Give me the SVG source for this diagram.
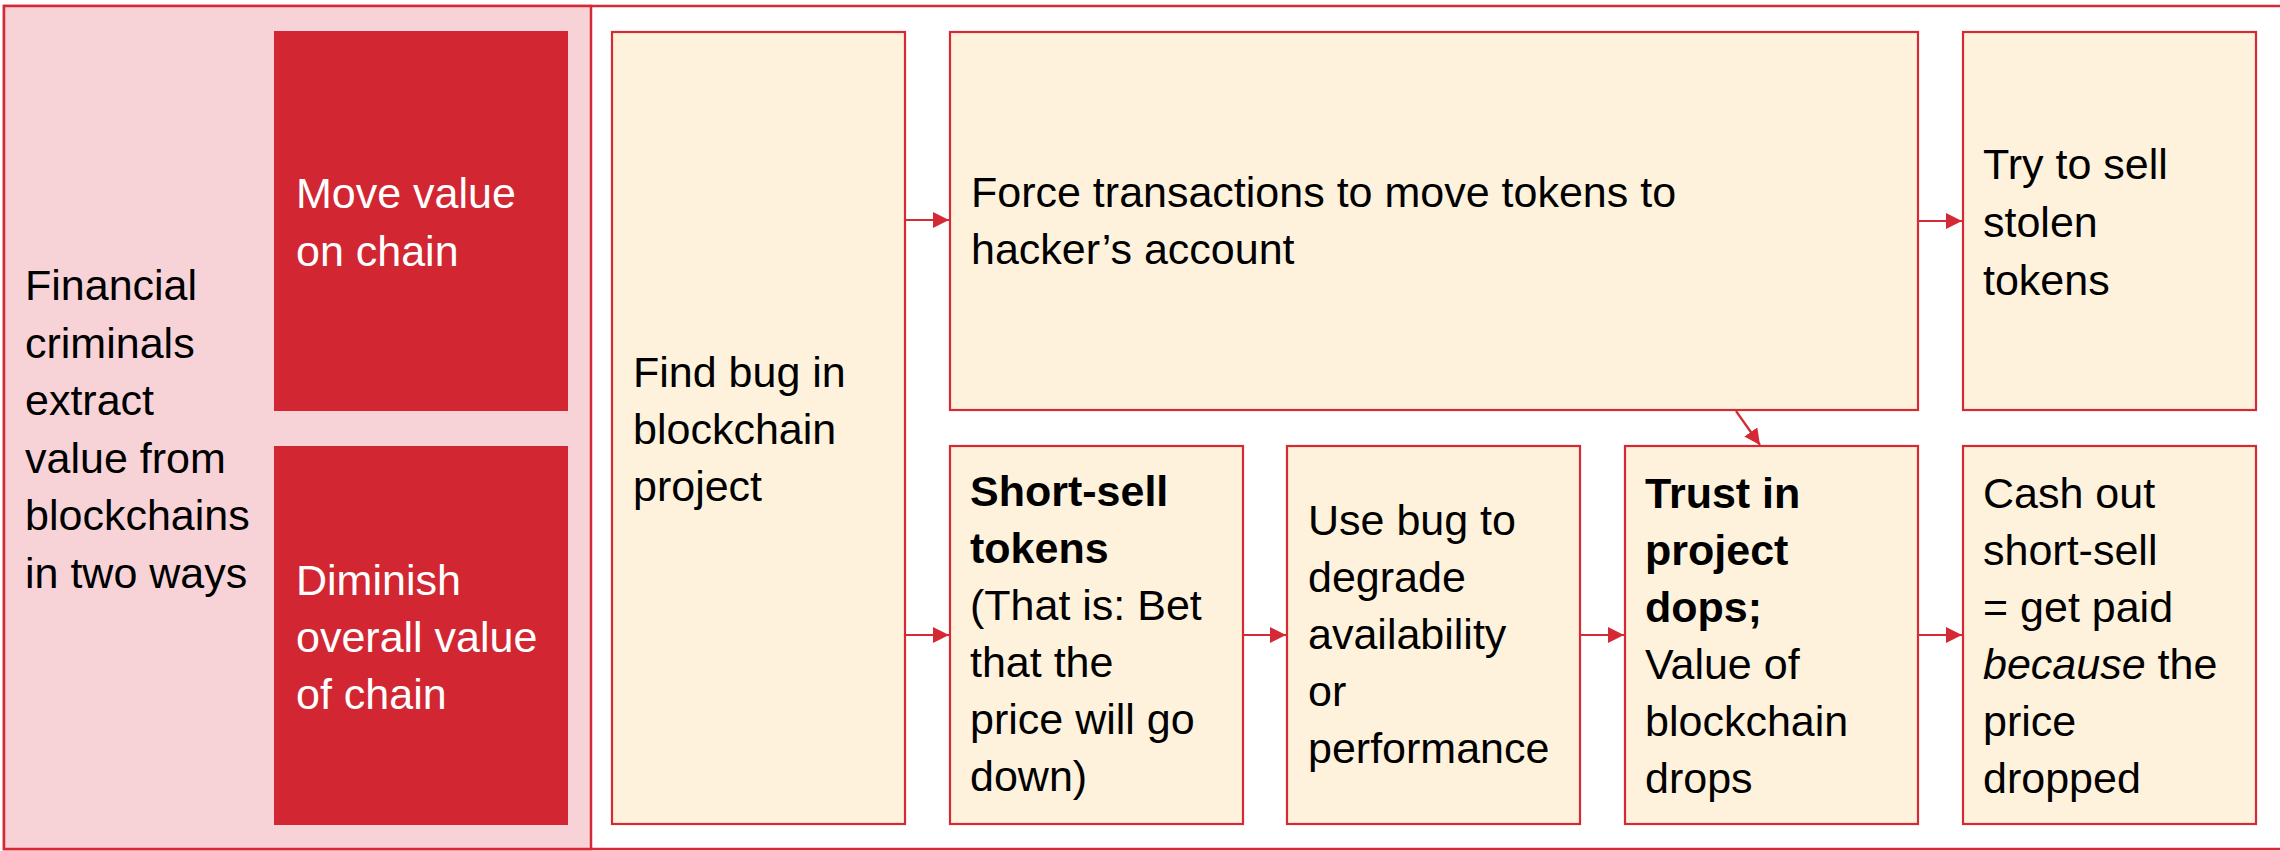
<svg xmlns="http://www.w3.org/2000/svg" width="2280" height="851" viewBox="0 0 2280 851">
  <style>
    .frame { fill: none; stroke: #D42A35; stroke-width: 2.5; }
    .panel { fill: #F7D3D7; stroke: #D42A35; stroke-width: 2.5; }
    .way { fill: #D22732; }
    .step { fill: #FFF2DC; stroke: #D42A35; stroke-width: 2.2; }
    text { font-family: "Liberation Sans", Arial, sans-serif; font-size: 43px; fill: #000; }
    .light { fill: #FFFFFF; }
    .b { font-weight: bold; }
    .i { font-style: italic; }
    .link { fill: none; stroke: #D42A35; stroke-width: 2.2; }
  </style>
  <defs>
    <marker id="head" viewBox="0 0 10 10" refX="10" refY="5" markerWidth="16" markerHeight="16" markerUnits="userSpaceOnUse" orient="auto">
      <path d="M0,0 L10,5 L0,10 Z" fill="#D42A35"/>
    </marker>
  </defs>

  <rect width="2280" height="851" fill="#FFFFFF"/>

  <!-- outer frame -->
  <rect class="frame" x="4" y="6" width="2290" height="843"/>

  <!-- left panel: the two ways -->
  <g id="summary">
    <rect class="panel" x="4" y="6" width="587" height="843"/>
    <text x="25">
      <tspan x="25" y="300">Financial</tspan>
      <tspan x="25" y="357.5">criminals</tspan>
      <tspan x="25" y="415">extract</tspan>
      <tspan x="25" y="472.5">value from</tspan>
      <tspan x="25" y="530">blockchains</tspan>
      <tspan x="25" y="587.5">in two ways</tspan>
    </text>
  </g>

  <g id="move-value">
    <rect class="way" x="274" y="31" width="294" height="380"/>
    <text class="light">
      <tspan x="296" y="208">Move value</tspan>
      <tspan x="296" y="266">on chain</tspan>
    </text>
  </g>

  <g id="diminish-value">
    <rect class="way" x="274" y="446" width="294" height="379"/>
    <text class="light">
      <tspan x="296" y="595">Diminish</tspan>
      <tspan x="296" y="652">overall value</tspan>
      <tspan x="296" y="709">of chain</tspan>
    </text>
  </g>

  <!-- steps -->
  <g id="find-bug">
    <rect class="step" x="612" y="32" width="293" height="792"/>
    <text>
      <tspan x="633" y="387">Find bug in</tspan>
      <tspan x="633" y="444">blockchain</tspan>
      <tspan x="633" y="501">project</tspan>
    </text>
  </g>

  <g id="force-transactions">
    <rect class="step" x="950" y="32" width="968" height="378"/>
    <text>
      <tspan x="971" y="207">Force transactions to move tokens to</tspan>
      <tspan x="971" y="264">hacker’s account</tspan>
    </text>
  </g>

  <g id="sell-stolen">
    <rect class="step" x="1963" y="32" width="293" height="378"/>
    <text>
      <tspan x="1983" y="179">Try to sell</tspan>
      <tspan x="1983" y="237">stolen</tspan>
      <tspan x="1983" y="295">tokens</tspan>
    </text>
  </g>

  <g id="short-sell">
    <rect class="step" x="950" y="446" width="293" height="378"/>
    <text>
      <tspan class="b" x="970" y="506">Short-sell</tspan>
      <tspan class="b" x="970" y="563">tokens</tspan>
      <tspan x="970" y="620">(That is: Bet</tspan>
      <tspan x="970" y="677">that the</tspan>
      <tspan x="970" y="734">price will go</tspan>
      <tspan x="970" y="791">down)</tspan>
    </text>
  </g>

  <g id="degrade">
    <rect class="step" x="1287" y="446" width="293" height="378"/>
    <text>
      <tspan x="1308" y="535">Use bug to</tspan>
      <tspan x="1308" y="592">degrade</tspan>
      <tspan x="1308" y="649">availability</tspan>
      <tspan x="1308" y="706">or</tspan>
      <tspan x="1308" y="763">performance</tspan>
    </text>
  </g>

  <g id="trust-drops">
    <rect class="step" x="1625" y="446" width="293" height="378"/>
    <text>
      <tspan class="b" x="1645" y="508">Trust in</tspan>
      <tspan class="b" x="1645" y="565">project</tspan>
      <tspan class="b" x="1645" y="622">dops;</tspan>
      <tspan x="1645" y="679">Value of</tspan>
      <tspan x="1645" y="736">blockchain</tspan>
      <tspan x="1645" y="793">drops</tspan>
    </text>
  </g>

  <g id="cash-out">
    <rect class="step" x="1963" y="446" width="293" height="378"/>
    <text>
      <tspan x="1983" y="508">Cash out</tspan>
      <tspan x="1983" y="565">short-sell</tspan>
      <tspan x="1983" y="622">= get paid</tspan>
      <tspan x="1983" y="679"><tspan class="i">because</tspan> the</tspan>
      <tspan x="1983" y="736">price</tspan>
      <tspan x="1983" y="793">dropped</tspan>
    </text>
  </g>

  <!-- connectors -->
  <g id="connectors">
    <line class="link" x1="905" y1="220" x2="949" y2="220" marker-end="url(#head)"/>
    <line class="link" x1="905" y1="635" x2="949" y2="635" marker-end="url(#head)"/>
    <line class="link" x1="1243" y1="635" x2="1286" y2="635" marker-end="url(#head)"/>
    <line class="link" x1="1580" y1="635" x2="1624" y2="635" marker-end="url(#head)"/>
    <line class="link" x1="1918" y1="635" x2="1962" y2="635" marker-end="url(#head)"/>
    <line class="link" x1="1918" y1="221" x2="1962" y2="221" marker-end="url(#head)"/>
    <line class="link" x1="1736" y1="411" x2="1760" y2="445" marker-end="url(#head)"/>
  </g>
</svg>
